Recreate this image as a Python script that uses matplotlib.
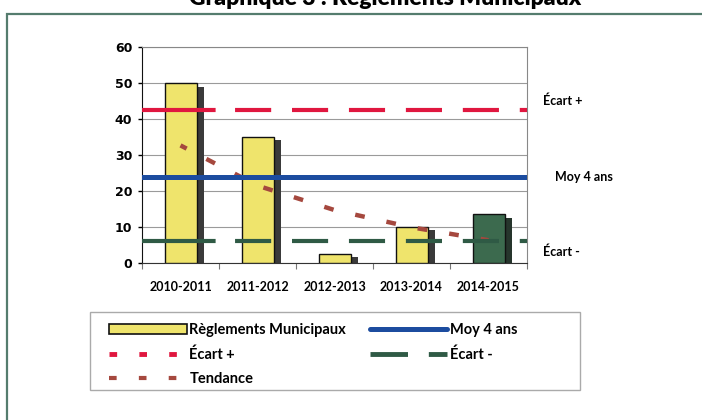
import numpy as np
import matplotlib
matplotlib.use("Agg")
import matplotlib.pyplot as plt
from matplotlib.patches import Rectangle, Patch
from matplotlib.lines import Line2D

plt.rcParams['font.family'] = ['Lato', 'DejaVu Sans']
plt.rcParams['lines.scale_dashes'] = False

# data
annees = ['2010-2011', '2011-2012', '2012-2013', '2013-2014', '2014-2015']
reglements = [50, 35, 2.5, 10, 13.5]
tendance = [32.6, 21.4, 14.6, 9.8, 6.2]
ecart_plus = 42.4
moy_4_ans = 23.8
ecart_moins = 6.0

jaune = '#efe46c'
vert = '#3c6a4e'
rouge = '#e0173f'
bleu = '#1c4c9f'
vert_fonce = '#2f5a45'
brun = '#a5483e'

fig = plt.figure(figsize=(7.02, 4.2), dpi=100)

# cadre exterieur
fig.patches.append(Rectangle((7 / 702, -0.05), 1.0, 1 - 14 / 420 + 0.05,
                             transform=fig.transFigure, fill=False,
                             edgecolor='#557c6e', lw=1.6))
# titre coupe en haut, comme dans l'original
fig.text(0.548, 1 - 5 / 420, 'Graphique 3 : Règlements Municipaux',
         ha='center', va='baseline', fontsize=16.5, weight='heavy')

ax = fig.add_axes([142 / 702, 1 - 262.5 / 420, 385 / 702, 215.5 / 420])
x = np.arange(len(annees))
couleurs = [jaune, jaune, jaune, jaune, vert]
ombres = ['#3a3a3a', '#3a3a3a', '#3a3a3a', '#3a3a3a', '#26352c']

# ombre 3D a droite des barres
ax.bar(x + 0.22, np.array(reglements) - 1.0, width=0.09, align='edge',
       color=ombres, zorder=2)
ax.bar(x + 0.01, reglements, width=0.42, color=couleurs,
       edgecolor='#111111', lw=1.0, zorder=3)

ax.plot(x, tendance, color=brun, lw=3.2, zorder=4,
        linestyle=(2, (7, 16)))

xs = [-0.5, 4.5]
motif = (0, (53, 14, 26, 15, 26, 15, 26, 15, 26, 15, 26, 15, 26, 15, 26, 15))
ax.plot(xs, [ecart_plus] * 2, color=rouge, lw=3.0, zorder=5, linestyle=motif)
ax.plot(xs, [ecart_moins] * 2, color=vert_fonce, lw=3.0, zorder=5, linestyle=motif)
ax.plot(xs, [moy_4_ans] * 2, color=bleu, lw=3.6, zorder=5)

ax.set_xlim(-0.5, 4.5)
ax.set_ylim(0, 60)
ax.set_yticks(range(0, 61, 10))
ax.yaxis.grid(True, color='#9a9a9a', lw=0.8, zorder=0)
ax.set_axisbelow(True)
ax.tick_params(axis='y', length=3, width=1, pad=4, labelsize=9)
for lab in ax.get_yticklabels():
    lab.set_fontweight('bold')
    lab.set_family(['DejaVu Sans'])
ax.set_xticks(x)
ax.set_xticklabels(annees, fontsize=9, weight='bold')
ax.set_xticks(np.arange(-0.5, 5, 1), minor=True)
ax.tick_params(axis='x', which='major', length=0, pad=13)
ax.tick_params(axis='x', which='minor', length=4, width=0.8, color='#777777')
ax.spines['left'].set_color('#111111')
ax.spines['bottom'].set_color('#333333')
ax.spines['top'].set_color('#888888')
ax.spines['right'].set_color('#888888')

# etiquettes a droite
fig.text(543 / 702, 1 - 101 / 420, 'Écart +', fontsize=9, weight='bold', va='center')
fig.text(555 / 702, 1 - 177 / 420, 'Moy 4 ans', fontsize=9, weight='bold', va='center')
fig.text(543 / 702, 1 - 252 / 420, 'Écart -', fontsize=9, weight='bold', va='center')

# legende
fig.patches.append(Rectangle((90 / 702, 1 - 390 / 420), 490 / 702, 78 / 420,
                             transform=fig.transFigure, fill=False,
                             edgecolor='#aaaaaa', lw=1.0))
h_bar = Patch(facecolor=jaune, edgecolor='#111111', lw=1.2)
h_plus = Line2D([], [], color=rouge, lw=3.5, linestyle=(0, (5.5, 16)))
h_tend = Line2D([], [], color=brun, lw=3.0, linestyle=(0, (5.5, 16)))
h_moy = Line2D([], [], color=bleu, lw=3.6, solid_capstyle='round')
h_moins = Line2D([], [], color=vert_fonce, lw=3.5, linestyle=(0, (27, 15)))
leg = fig.legend([h_bar, h_plus, h_tend, h_moy, h_moins],
                 ['Règlements Municipaux', 'Écart +', 'Tendance', 'Moy 4 ans', 'Écart -'],
                 ncol=2, loc='upper left', bbox_to_anchor=(99 / 702, 1 - 313 / 420),
                 frameon=False, fontsize=10.5, handlelength=5.3, handleheight=0.7,
                 handletextpad=0.2, columnspacing=1.6, labelspacing=0.7,
                 borderpad=0.2)
for t in leg.get_texts():
    t.set_fontweight('bold')

fig.savefig('out.png', dpi=100)
